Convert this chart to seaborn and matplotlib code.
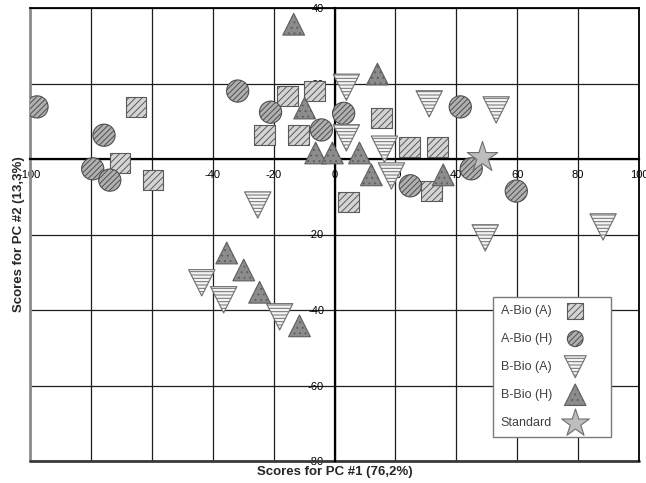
import matplotlib
matplotlib.use("Agg")
import matplotlib.pyplot as plt
import pandas as pd
import seaborn as sns
from matplotlib.colors import to_rgba
from matplotlib.legend_handler import HandlerPathCollection
from matplotlib.lines import Line2D

# PCA scores (PC #1, PC #2) for each sample group
a_bio_a_pc1 = [-65.2, -70.5, -59.7, -15.4, -6.6, -23.0, -11.8, 15.4, 24.6, 33.8, 31.8, 4.6]
a_bio_a_pc2 = [13.8, -1.1, -5.6, 16.7, 18.0, 6.3, 6.3, 10.8, 3.2, 3.2, -8.5, -11.4]

a_bio_h_pc1 = [-97.7, -75.7, -79.4, -73.8, -31.8, -21.0, -4.3, 3.0, 41.3, 44.9, 24.9, 59.7]
a_bio_h_pc2 = [13.8, 6.3, -2.6, -5.6, 18.0, 12.4, 7.7, 12.1, 13.8, -2.6, -7.1, -8.5]

b_bio_a_pc1 = [-25.2, 3.9, 3.9, 31.1, 53.1, 16.4, 18.7, 49.5, 88.2, -43.6, -36.4, -18.0]
b_bio_a_pc2 = [-12.2, 19.0, 5.6, 14.6, 13.0, 2.6, -4.5, -20.9, -18.0, -32.8, -37.3, -41.8]

b_bio_h_pc1 = [-13.4, -9.8, -6.2, -0.7, 8.2, 14.1, 12.1, 35.7, -35.4, -29.8, -24.6, -11.5]
b_bio_h_pc2 = [35.7, 13.5, 1.6, 1.6, 1.6, 22.5, -4.2, -4.2, -24.9, -29.4, -35.3, -44.2]

standard_pc1 = [48.5]
standard_pc2 = [0.5]

group_labels = ["A-Bio (A)", "A-Bio (H)", "B-Bio (A)", "B-Bio (H)", "Standard"]
x_ticks = list(range(-100, 101, 20))
y_ticks = list(range(-80, 41, 20))

sns.set_style("white")
plt.rcParams["font.family"] = ["Liberation Sans", "DejaVu Sans"]
plt.rcParams["hatch.linewidth"] = 0.7

fig = plt.figure(figsize=(6.46, 4.83), dpi=100)
ax = fig.add_axes([30 / 646, 22 / 483, 609 / 646, 453 / 483])

groups = [
    (a_bio_a_pc1, a_bio_a_pc2, dict(marker="s", s=215, fc="#d4d4d4", ec="#5a5a5a",
                                    hatch="/////", hc="#8a8a8a", leg_s=128)),
    (a_bio_h_pc1, a_bio_h_pc2, dict(marker="o", s=255, fc="#b0b0b0", ec="#4f4f4f",
                                    hatch="//////", hc="#4f4f4f", leg_s=128)),
    (b_bio_a_pc1, b_bio_a_pc2, dict(marker="v", s=360, fc="#f4f4f4", ec="#6e6e6e",
                                    hatch="-----", hc="#a8a8a8", leg_s=250)),
    (b_bio_h_pc1, b_bio_h_pc2, dict(marker="^", s=245, fc="#8c8c8c", ec="#5e5e5e",
                                    hatch="...", hc="#c8c8c8", leg_s=240)),
    (standard_pc1, standard_pc2, dict(marker="*", s=530, fc="#bdbdbd", ec="#6e6e6e",
                                      hatch=None, hc="#6e6e6e", leg_s=437)),
]


def paint_hatch(coll, color):
    rgba = to_rgba(color)
    if hasattr(coll, "set_hatchcolor"):
        coll.set_hatchcolor(rgba)
    else:
        coll._hatch_color = rgba


handles = []
for xs, ys, st in groups:
    df = pd.DataFrame({"PC1": xs, "PC2": ys})
    n_before = len(ax.collections)
    sns.scatterplot(data=df, x="PC1", y="PC2", ax=ax, marker=st["marker"], s=st["s"],
                    color=st["fc"], edgecolor=st["ec"], linewidth=0.8,
                    hatch=st["hatch"], legend=False, zorder=3)
    coll = ax.collections[n_before]
    paint_hatch(coll, st["hc"])
    handles.append(coll)

ax.set_xlim(-100, 100)
ax.set_ylim(-80, 40)
ax.set_xticks(x_ticks)
ax.set_yticks(y_ticks)
ax.set_xticklabels([str(v) for v in x_ticks], fontweight="bold")
ax.set_yticklabels(["" if v == 0 else str(v) for v in y_ticks], fontweight="bold")
ax.tick_params(axis="both", direction="inout", length=5, width=1, colors="black",
               labelsize=8)
ax.tick_params(axis="x", pad=5.5)
ax.tick_params(axis="y", pad=5)

ax.grid(True, color="#1e1e1e", linewidth=0.9)
ax.set_axisbelow(True)

# axes crossing at the origin
for side in ("left", "bottom"):
    ax.spines[side].set_position(("data", 0))
    ax.spines[side].set_color("black")
    ax.spines[side].set_linewidth(1.6)
    ax.spines[side].set_zorder(1)
for side in ("top", "right"):
    ax.spines[side].set_color("black")
    ax.spines[side].set_linewidth(1.3)

# outer frame edges on the left and bottom
ax.add_artist(Line2D([0, 0], [0, 1], transform=ax.transAxes, color="#8c8c8c",
                     linewidth=2, clip_on=False, zorder=1))
ax.add_artist(Line2D([0, 1], [0, 0], transform=ax.transAxes, color="#3a3a3a",
                     linewidth=2, clip_on=False, zorder=1))

ax.set_xlabel("Scores for PC #1 (76,2%)", fontsize=9.5, fontweight="bold")
ax.set_ylabel("Scores for PC #2 (13,3%)", fontsize=9.5, fontweight="bold")
ax.xaxis.set_label_coords(0.5, -0.011)
ax.yaxis.set_label_coords(-0.009, 0.5)

handler_map = {h: HandlerPathCollection(sizes=[st["leg_s"]])
               for h, (_, _, st) in zip(handles, groups)}
leg = ax.legend(handles, group_labels, loc="upper left", bbox_to_anchor=(0.760, 0.362),
                borderaxespad=0, markerfirst=False, fontsize=9, labelcolor="#404040",
                frameon=True, fancybox=False, edgecolor="#7a7a7a", framealpha=1,
                borderpad=0.64, labelspacing=1.28, handlelength=4.5,
                handletextpad=-0.4, scatterpoints=1, handler_map=handler_map)
leg.get_frame().set_linewidth(1.0)
for lh, (_, _, st) in zip(leg.legend_handles, groups):
    paint_hatch(lh, st["hc"])

fig.savefig("out.png", dpi=100)
